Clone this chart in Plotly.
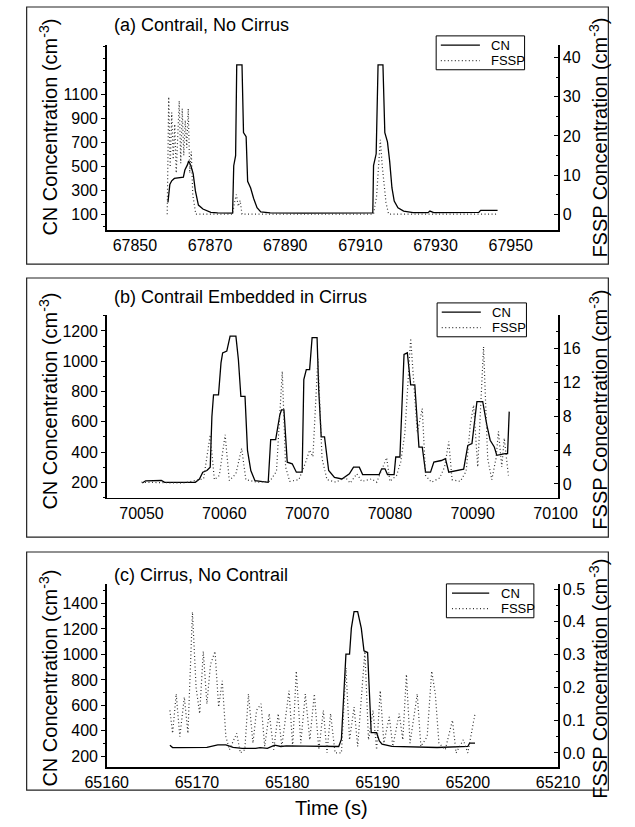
import plotly.graph_objects as go

W, H = 635, 827
def px(x): return x / W
def py(y): return 1 - y / H

FONT = "Liberation Sans, Arial, Helvetica, sans-serif"

# ---------------- Panel (a): Contrail, No Cirrus ----------------
a_cn_t = [67858.8, 67859.3, 67859.8, 67860.5, 67862.9, 67863.3, 67864.0, 67864.3, 67864.9, 67865.5,
          67866.1, 67866.9, 67868.1, 67870.2, 67872.0, 67876.0, 67876.3, 67876.8, 67877.1, 67878.5,
          67878.9, 67879.6, 67880.0, 67880.8, 67881.6, 67882.5, 67883.5, 67886.0, 67895.0, 67905.0,
          67913.3, 67913.5, 67914.2, 67914.7, 67916.0, 67916.5, 67917.2, 67917.8, 67918.4, 67919.0,
          67920.0, 67921.5, 67924.0, 67928.0, 67928.5, 67929.5, 67935.0, 67941.5, 67942.0, 67946.5]
a_cn = [199, 350, 380, 400, 410, 470, 515, 545, 505, 440,
        295, 177, 144, 116, 111, 109, 506, 590, 1350, 1350,
        783, 749, 375, 320, 232, 155, 120, 111, 109, 111,
        111, 507, 606, 1350, 1350, 782, 705, 540, 320, 210,
        155, 127, 113, 113, 127, 113, 113, 116, 133, 133]

a_fssp_t = [67858.6, 67859.0, 67859.4, 67859.8, 67860.2, 67860.6, 67861.0, 67861.4, 67861.8, 67862.2,
            67862.6, 67863.0, 67863.4, 67863.8, 67864.2, 67864.6, 67865.0, 67865.4, 67865.8, 67866.2,
            67870.0, 67876.0, 67876.5, 67877.0, 67877.5, 67878.0, 67878.5, 67913.5, 67914.3, 67914.8,
            67915.3, 67915.8, 67916.3, 67916.8, 67917.5, 67946.5]
a_fssp = [0, 30, 12, 26, 14, 23, 10.5, 20.5, 29, 13,
          27, 15, 24, 17, 27, 10.5, 16, 5, 2, 0,
          0, 0, 3, 5, 2, 3.5, 0, 0, 4.5, 11,
          19, 12.5, 7, 3, 0, 0]

# ---------------- Panel (b): Contrail Embedded in Cirrus ----------------
b_cn_t = [70050.1, 70050.5, 70052.4, 70052.8, 70056.5, 70057.0, 70057.4, 70057.9, 70058.3, 70058.5,
          70058.7, 70059.3, 70059.6, 70059.8, 70060.3, 70060.7, 70061.4, 70061.7, 70062.0, 70062.5,
          70062.8, 70063.2, 70063.7, 70065.3, 70065.6, 70066.2, 70066.7, 70066.9, 70067.2, 70067.6,
          70068.2, 70068.7, 70069.4, 70069.6, 70069.9, 70070.3, 70070.6, 70071.2, 70071.4, 70071.7,
          70072.1, 70072.6, 70073.3, 70074.2, 70075.1, 70075.6, 70076.3, 70076.7, 70078.7, 70079.0,
          70079.4, 70079.7, 70080.5, 70080.7, 70081.2, 70081.7, 70082.1, 70082.5, 70083.0, 70083.5,
          70083.9, 70084.3, 70084.9, 70085.3, 70086.2, 70086.7, 70087.1, 70088.0, 70088.9, 70089.4,
          70089.9, 70090.5, 70091.2, 70091.7, 70092.1, 70092.6, 70092.9, 70093.9, 70094.2, 70094.4]
b_cn = [195, 210, 212, 200, 200, 222, 267, 278, 300, 633,
        778, 778, 989, 1055, 1067, 1165, 1165, 1011, 767, 767,
        411, 278, 211, 200, 482, 482, 644, 678, 678, 333,
        322, 267, 267, 878, 944, 944, 1155, 1155, 811, 500,
        500, 278, 233, 222, 256, 300, 300, 251, 251, 289,
        289, 251, 251, 367, 367, 1044, 1055, 844, 844, 433,
        433, 267, 267, 333, 344, 356, 267, 278, 287, 444,
        456, 733, 733, 578, 478, 433, 378, 389, 389, 667]

b_fssp_t = [70050.0, 70055.0, 70057.5, 70058.3, 70058.8, 70059.4, 70060.1, 70060.6, 70061.4, 70062.1,
            70062.6, 70064.0, 70065.5, 70066.3, 70067.0, 70067.4, 70067.9, 70069.0, 70069.8, 70070.3,
            70070.7, 70071.3, 70071.8, 70072.4, 70073.5, 70074.6, 70075.2, 70076.0, 70076.6, 70077.8,
            70078.4, 70079.6, 70080.0, 70080.8, 70081.3, 70081.8, 70082.5, 70082.9, 70083.3, 70083.9,
            70084.3, 70085.0, 70086.0, 70086.6, 70087.1, 70087.5, 70088.5, 70089.2, 70089.7, 70090.1,
            70090.6, 70091.3, 70091.8, 70092.3, 70092.8, 70093.1, 70093.5, 70093.8, 70094.3]
b_fssp = [0.2, 0.1, 0.6, 5.8, 0.5, 1.0, 5.8, 0.4, 1.2, 4.2,
          0.5, 0.2, 0.3, 1.5, 13.3, 2.0, 0.3, 0.5, 2.5, 4.0,
          3.2, 14.8, 3.0, 0.5, 0.2, 0.8, 0.1, 1.2, 0.3, 0.6,
          0.2, 3.1, 0.3, 1.0, 2.6, 6.0, 17.2, 12.1, 6.0, 8.9,
          1.0, 0.2, 0.7, 2.0, 5.0, 0.5, 0.3, 1.5, 7.0, 9.3,
          2.0, 16.2, 3.0, 0.5, 3.0, 6.2, 2.0, 5.4, 1.0]

# ---------------- Panel (c): Cirrus, No Contrail ----------------
c_cn_t = [65167.0, 65167.3, 65168.0, 65171.1, 65172.3, 65173.2, 65174.0, 65175.0, 65176.5, 65177.0,
          65177.8, 65178.6, 65179.3, 65179.9, 65182.0, 65185.7, 65186.0, 65186.3, 65186.5, 65186.9,
          65187.1, 65187.4, 65187.8, 65188.2, 65188.5, 65188.9, 65189.1, 65189.3, 65189.9, 65190.2,
          65190.5, 65191.6, 65196.6, 65200.0, 65200.2, 65200.8]
c_cn = [287, 269, 268, 270, 290, 290, 269, 262, 262, 268,
        262, 287, 277, 282, 280, 277, 334, 796, 1002, 1002,
        1207, 1336, 1336, 1207, 1028, 1015, 642, 385, 385, 321,
        295, 277, 269, 277, 303, 303]

c_fssp_t = [65167.0, 65167.3, 65167.7, 65168.1, 65168.6, 65169.0, 65169.5, 65169.9, 65170.3, 65170.7,
            65171.1, 65171.5, 65172.0, 65172.4, 65172.8, 65173.2, 65173.6, 65174.4, 65174.8, 65175.3,
            65175.7, 65176.2, 65176.6, 65177.1, 65177.5, 65178.0, 65178.5, 65179.0, 65179.4, 65180.2,
            65180.6, 65181.0, 65181.5, 65182.0, 65182.5, 65183.0, 65183.5, 65184.0, 65184.4, 65184.8,
            65185.3, 65186.0, 65186.5, 65186.9, 65187.4, 65187.8, 65188.6, 65189.0, 65189.5, 65189.9,
            65190.3, 65190.7, 65191.3, 65191.7, 65192.4, 65192.8, 65193.2, 65193.6, 65194.4, 65194.8,
            65195.5, 65196.0, 65196.4, 65196.8, 65197.5, 65198.3, 65198.7, 65199.5, 65200.0, 65200.8]
c_fssp = [0.13, 0.06, 0.18, 0.05, 0.17, 0.06, 0.43, 0.20, 0.12, 0.31,
          0.15, 0.27, 0.31, 0.14, 0.22, 0.05, 0.01, 0.06, 0.00, 0.01,
          0.18, 0.03, 0.13, 0.15, 0.02, 0.12, 0.01, 0.12, 0.02, 0.19,
          0.02, 0.25, 0.03, 0.18, 0.04, 0.18, 0.01, 0.13, 0.00, 0.12,
          0.00, 0.00, 0.26, 0.04, 0.14, 0.02, 0.31, 0.04, 0.13, 0.01,
          0.19, 0.03, 0.11, 0.02, 0.12, 0.04, 0.24, 0.03, 0.18, 0.02,
          0.05, 0.25, 0.18, 0.03, 0.01, 0.10, 0.00, 0.04, 0.00, 0.12]

# axis ticks
a_xticks = [67850, 67870, 67890, 67910, 67930, 67950]
a_lticks = [100, 300, 500, 700, 900, 1100]
a_rticks = [0, 10, 20, 30, 40]
b_xticks = [70050, 70060, 70070, 70080, 70090, 70100]
b_lticks = [200, 400, 600, 800, 1000, 1200]
b_rticks = [0, 4, 8, 12, 16]
c_xticks = [65160, 65170, 65180, 65190, 65200, 65210]
c_lticks = [200, 400, 600, 800, 1000, 1200, 1400]
c_rticks = [0.0, 0.1, 0.2, 0.3, 0.4, 0.5]

titles = ["(a) Contrail, No Cirrus", "(b) Contrail Embedded in Cirrus", "(c) Cirrus, No Contrail"]
series_names = ["CN", "FSSP"]

# ---------------- figure ----------------
fig = go.Figure()
CN_LINE = dict(color="black", width=1.3)
FS_LINE = dict(color="#333333", width=1.2, dash="1px,2.5px")

panels = [
    (a_cn_t, a_cn, a_fssp_t, a_fssp, "x", "y", "y2"),
    (b_cn_t, b_cn, b_fssp_t, b_fssp, "x2", "y3", "y4"),
    (c_cn_t, c_cn, c_fssp_t, c_fssp, "x3", "y5", "y6"),
]
for cn_t, cn, fs_t, fs, xa, ya, ya2 in panels:
    fig.add_trace(go.Scatter(x=cn_t, y=cn, mode="lines", name=series_names[0], line=CN_LINE,
                             xaxis=xa, yaxis=ya, showlegend=False))
    fig.add_trace(go.Scatter(x=fs_t, y=fs, mode="lines", name=series_names[1], line=FS_LINE,
                             xaxis=xa, yaxis=ya2, showlegend=False))

TICKFONT = dict(family=FONT, size=16, color="black")
common_x = dict(showline=True, linecolor="black", linewidth=1.5, ticks="", showgrid=False,
                zeroline=False, tickfont=TICKFONT, tickmode="array", tickformat="d")
common_yl = dict(showline=True, linecolor="black", linewidth=1.5, ticks="outside", ticklen=4,
                 tickcolor="black", showgrid=False, zeroline=False, tickfont=TICKFONT,
                 tickmode="array")
common_yr = dict(showline=True, linecolor="black", linewidth=1.5, ticks="inside", ticklen=4,
                 tickcolor="black", showgrid=False, zeroline=False, tickfont=TICKFONT,
                 tickmode="array", side="right")

XDOM = [px(91), px(576)]
layout_axes = dict(
    xaxis=dict(common_x, domain=XDOM, anchor="y", range=[67842.5, 67962.6], tickvals=a_xticks),
    yaxis=dict(common_yl, domain=[py(228), py(42)], anchor="x", range=[-33, 1517], tickvals=a_lticks,
               minor=dict(ticks="outside", ticklen=2, tick0=0, dtick=100, tickcolor="black")),
    yaxis2=dict(common_yr, overlaying="y", anchor="x", range=[-4.1, 43.3], tickvals=a_rticks,
                minor=dict(ticks="inside", ticklen=2, tick0=0, dtick=5, tickcolor="black")),
    xaxis2=dict(common_x, domain=XDOM, anchor="y3", range=[70045.8, 70100.3], tickvals=b_xticks),
    yaxis3=dict(common_yl, domain=[py(496.7), py(313)], anchor="x2", range=[97, 1306], tickvals=b_lticks,
                minor=dict(ticks="outside", ticklen=2, tick0=0, dtick=100, tickcolor="black")),
    yaxis4=dict(common_yr, overlaying="y3", anchor="x2", range=[-1.65, 19.96], tickvals=b_rticks,
                minor=dict(ticks="inside", ticklen=2, tick0=0, dtick=2, tickcolor="black")),
    xaxis3=dict(common_x, domain=XDOM, anchor="y5", range=[65160, 65210], tickvals=c_xticks),
    yaxis5=dict(common_yl, domain=[py(767), py(583.3)], anchor="x3", range=[114, 1552], tickvals=c_lticks,
                minor=dict(ticks="outside", ticklen=2, tick0=0, dtick=100, tickcolor="black")),
    yaxis6=dict(common_yr, overlaying="y5", anchor="x3", range=[-0.0435, 0.515], tickvals=c_rticks,
                tickformat=".1f",
                minor=dict(ticks="inside", ticklen=2, tick0=0, dtick=0.05, tickcolor="black")),
)

fig.update_layout(
    width=W, height=H, margin=dict(l=0, r=0, t=0, b=0),
    paper_bgcolor="white", plot_bgcolor="white",
    font=dict(family=FONT, color="black"),
    showlegend=False,
    **layout_axes,
)

def pshape(**kw):
    fig.add_shape(xref="paper", yref="paper", **kw)

# panel frames
frames = [(5, 4, 630, 262), (5, 276, 630, 536), (5, 551, 630, 790)]
for x0, y0, x1, y1 in frames:
    pshape(type="rect", x0=px(x0), x1=px(x1), y0=py(y1), y1=py(y0),
           line=dict(color="#222222", width=1.2), fillcolor="rgba(0,0,0,0)", layer="below")

# legend boxes (one per panel)
legends = [(445, 33, 540, 67, 450, 492, 502), (446, 301, 542, 335, 451, 493, 503),
           (456, 583, 550, 617, 462, 502, 512)]
LEGFONT = dict(family=FONT, size=13, color="black")
for x0, y0, x1, y1, sx0, sx1, tx in legends:
    pshape(type="rect", x0=px(x0), x1=px(x1), y0=py(y1), y1=py(y0),
           line=dict(color="black", width=1), fillcolor="white", layer="above")
    r1 = y0 + (y1 - y0) * 0.27
    r2 = y0 + (y1 - y0) * 0.73
    pshape(type="line", x0=px(sx0), x1=px(sx1), y0=py(r1), y1=py(r1),
           line=dict(color="black", width=1.3), layer="above")
    pshape(type="line", x0=px(sx0), x1=px(sx1), y0=py(r2), y1=py(r2),
           line=dict(color="#333333", width=1.2, dash="1px,2.5px"), layer="above")
    for nm, ry in zip(series_names, [r1, r2]):
        fig.add_annotation(text=nm, x=px(tx), y=py(ry), xref="paper", yref="paper", xanchor="left",
                           yanchor="middle", showarrow=False, font=LEGFONT)

# panel titles
for t, yc in zip(titles, [22, 295, 574]):
    fig.add_annotation(text=t, x=px(97), y=py(yc), xref="paper", yref="paper", xanchor="left",
                       yanchor="middle", showarrow=False, font=dict(family=FONT, size=18, color="black"))

# axis titles
AXFONT = dict(family=FONT, size=20, color="black")
for yc in [125, 400, 678]:
    fig.add_annotation(text="CN Concentration (cm<sup>-3</sup>)", x=px(28), y=py(yc), xref="paper",
                       yref="paper", textangle=-90, showarrow=False, font=AXFONT,
                       xanchor="center", yanchor="middle")
for yc in [135, 408, 678]:
    fig.add_annotation(text="FSSP Concentration (cm<sup>-3</sup>)", x=px(619), y=py(yc), xref="paper",
                       yref="paper", textangle=-90, showarrow=False, font=AXFONT,
                       xanchor="center", yanchor="middle")
fig.add_annotation(text="Time (s)", x=px(333), y=py(808), xref="paper", yref="paper", showarrow=False,
                   font=dict(family=FONT, size=20, color="black"), xanchor="center", yanchor="middle")

fig.write_html("out.html", config={"displayModeBar": False, "staticPlot": True},
               post_script="document.body.style.margin='0px';document.body.style.overflow='hidden';")
